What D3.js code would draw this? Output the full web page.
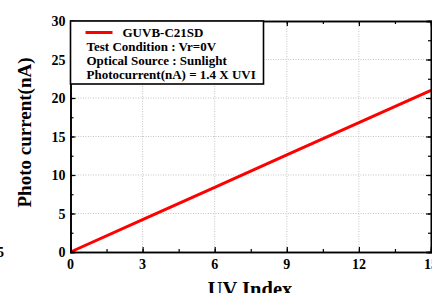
<!DOCTYPE html>
<html>
<head>
<meta charset="utf-8">
<script src="https://cdn.jsdelivr.net/npm/d3@7"></script>
<style>
  body { margin: 0; background: #fff; }
  text { font-family: "Liberation Serif", "Times New Roman", serif; font-weight: bold; }
</style>
</head>
<body>
<div id="chart"></div>
<script>
// data
const uvIndex = [0, 3, 6, 9, 12, 15]
const current = [0, 4.2, 8.4, 12.6, 16.8, 21]
const xTicks = [0, 3, 6, 9, 12, 15]
const yTicks = [0, 5, 10, 15, 20, 25, 30]
const legendLines = ['Test Condition : Vr=0V', 'Optical Source : Sunlight', 'Photocurrent(nA) = 1.4 X UVI']
const seriesName = 'GUVB-C21SD'

const w = 432
const h = 293
const margin = {top: 21, right: 1, bottom: 41, left: 70.5}
const plotWidth = w - margin.left - margin.right
const plotHeight = h - margin.top - margin.bottom

const svg = d3.select('#chart')
  .append('svg')
    .attr('width', w)
    .attr('height', h)

const g = svg.append('g')
  .attr('transform', 'translate(' + margin.left + ',' + margin.top + ')')

const xScale = d3.scaleLinear().domain([0, 15]).range([0, plotWidth])
const yScale = d3.scaleLinear().domain([0, 30]).range([plotHeight, 0])

// dotted grid
g.selectAll('.vgrid')
  .data(xTicks.slice(1, -1))
  .enter().append('line')
  .attr('x1', d => xScale(d)).attr('x2', d => xScale(d))
  .attr('y1', 0).attr('y2', plotHeight)
  .attr('stroke', '#c4c4c4').attr('stroke-dasharray', '1,1.5')

g.selectAll('.hgrid')
  .data(yTicks.slice(1, -1))
  .enter().append('line')
  .attr('y1', d => yScale(d)).attr('y2', d => yScale(d))
  .attr('x1', 0).attr('x2', plotWidth)
  .attr('stroke', '#c4c4c4').attr('stroke-dasharray', '1,1.5')

// the line
const line = d3.line()
  .x((d, i) => xScale(uvIndex[i]))
  .y(d => yScale(d))

g.append('path')
  .datum(current)
  .attr('d', line)
  .attr('fill', 'none')
  .attr('stroke', '#ff0000')
  .attr('stroke-width', 3)

// axes, ticks drawn inward, mirrored on top and right
const xMinor = d3.range(0, 15.01, 1.5)
const yMinor = d3.range(0, 30.01, 2.5)

function tickAxis(axis, tickVals, size) {
  return axis.tickValues(tickVals).tickSize(size).tickFormat('')
}

g.append('g').attr('transform', 'translate(0,' + plotHeight + ')')
  .call(tickAxis(d3.axisTop(xScale), xMinor, 3))
g.append('g').attr('transform', 'translate(0,' + plotHeight + ')')
  .call(tickAxis(d3.axisTop(xScale), xTicks, 5))
g.append('g')
  .call(tickAxis(d3.axisBottom(xScale), xMinor, 3))
g.append('g')
  .call(tickAxis(d3.axisBottom(xScale), xTicks, 5))
g.append('g')
  .call(tickAxis(d3.axisRight(yScale), yMinor, 3))
g.append('g')
  .call(tickAxis(d3.axisRight(yScale), yTicks, 5))
g.append('g').attr('transform', 'translate(' + plotWidth + ',0)')
  .call(tickAxis(d3.axisLeft(yScale), yMinor, 3))
g.append('g').attr('transform', 'translate(' + plotWidth + ',0)')
  .call(tickAxis(d3.axisLeft(yScale), yTicks, 5))

g.selectAll('.domain').attr('stroke', '#000').attr('stroke-width', 1.6)
g.selectAll('.tick line').attr('stroke', '#000').attr('stroke-width', 1.2)

// tick labels
g.selectAll('.xlab')
  .data(xTicks)
  .enter().append('text')
  .attr('x', d => xScale(d))
  .attr('y', plotHeight + 17)
  .attr('text-anchor', 'middle')
  .attr('font-size', 14)
  .text(d => d)

g.selectAll('.ylab')
  .data(yTicks)
  .enter().append('text')
  .attr('x', -5)
  .attr('y', d => yScale(d) + 5)
  .attr('text-anchor', 'end')
  .attr('font-size', 14)
  .text(d => d)

// axis titles
svg.append('text')
  .attr('transform', 'translate(31,132.5) rotate(-90)')
  .attr('text-anchor', 'middle')
  .attr('font-size', 19)
  .text('Photo current(nA)')

svg.append('text')
  .attr('x', 250)
  .attr('y', 296)
  .attr('text-anchor', 'middle')
  .attr('font-size', 20.5)
  .text('UV Index')

// stray label at the left edge of the picture
svg.append('text')
  .attr('x', -3)
  .attr('y', 257)
  .attr('font-size', 14)
  .text('5')

// legend box
const legend = g.append('g')
legend.append('rect')
  .attr('x', 0).attr('y', 0)
  .attr('width', 193).attr('height', 63)
  .attr('fill', '#fff')
  .attr('stroke', '#000').attr('stroke-width', 1.6)

legend.append('line')
  .attr('x1', 15).attr('x2', 42)
  .attr('y1', 11.5).attr('y2', 11.5)
  .attr('stroke', '#ff0000').attr('stroke-width', 3)

legend.append('text')
  .attr('x', 52).attr('y', 15.5)
  .attr('font-size', 13)
  .text(seriesName)

legend.selectAll('.ltxt')
  .data(legendLines)
  .enter().append('text')
  .attr('x', 16)
  .attr('y', (d, i) => 29.5 + i * 14)
  .attr('font-size', 13)
  .text(d => d)
</script>
</body>
</html>
